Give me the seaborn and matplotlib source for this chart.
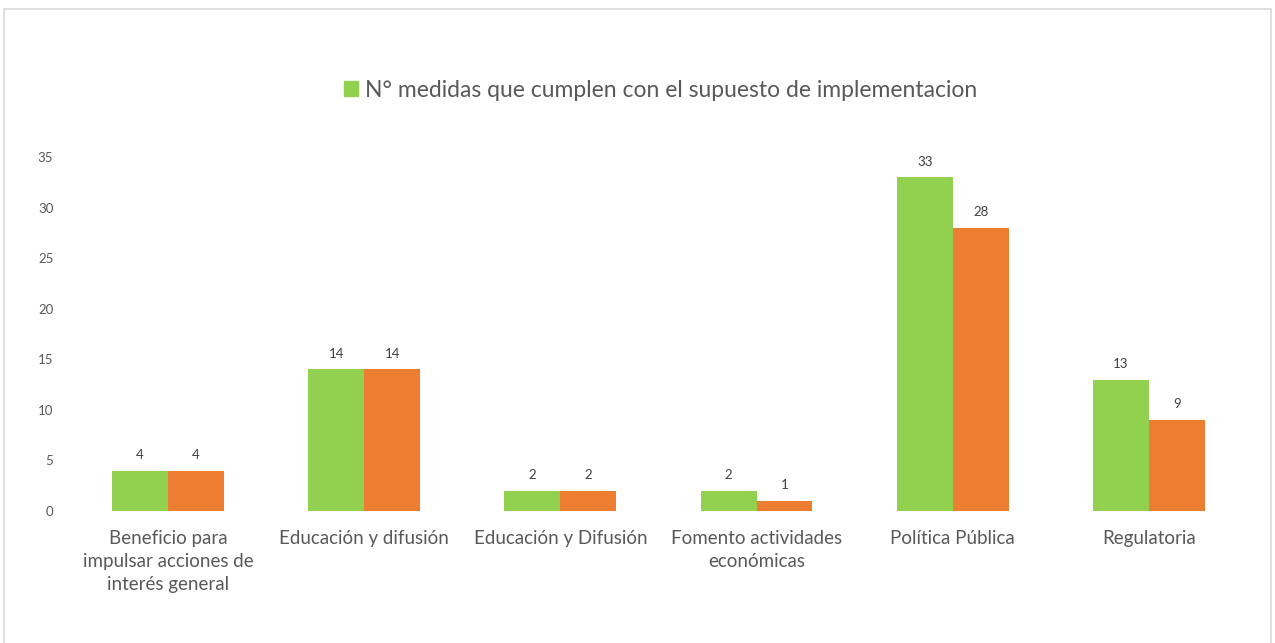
import pandas as pd
import matplotlib.pyplot as plt
import seaborn as sns
from matplotlib.patches import Patch, Rectangle

# Chart data
categories = ['Beneficio para\nimpulsar acciones de\ninterés general',
              'Educación y difusión',
              'Educación y Difusión',
              'Fomento actividades\neconómicas',
              'Política Pública',
              'Regulatoria']
cumplen = [4, 14, 2, 2, 33, 13]
otra_serie = [4, 14, 2, 1, 28, 9]
series_names = ['N° medidas que cumplen con el supuesto de implementacion', 'Serie 2']

df = pd.DataFrame({
    'categoria': categories * 2,
    'valor': cumplen + otra_serie,
    'serie': [series_names[0]] * len(categories) + [series_names[1]] * len(categories),
})

sns.set_style('white')
plt.rcParams['font.family'] = ['Lato', 'DejaVu Sans']

fig = plt.figure(figsize=(12.75, 6.43), dpi=100)
ax = fig.add_axes([0.0549, 0.2053, 0.9231, 0.5505])

colors = ['#92D050', '#ED7D31']
sns.barplot(data=df, x='categoria', y='valor', hue='serie', palette=colors,
            width=0.57, saturation=1, linewidth=0, ax=ax, legend=False)

for cont in ax.containers:
    ax.bar_label(cont, fontsize=9.5, color='#404040', padding=7)

ax.set_ylim(0, 35)
ax.set_yticks(range(0, 36, 5))
ax.set_xlim(-0.5, len(categories) - 0.5)
ax.set_xlabel('')
ax.set_ylabel('')
ax.tick_params(axis='y', labelsize=9.5, labelcolor='#595959', length=0, pad=12)
ax.tick_params(axis='x', labelsize=13.5, labelcolor='#595959', length=0, pad=14)
for lbl in ax.get_xticklabels():
    lbl.set_linespacing(1.4)
for s in ['top', 'right', 'left', 'bottom']:
    ax.spines[s].set_visible(False)

# only the first series appears in the legend
fig.legend(handles=[Patch(color=colors[0], label=series_names[0])],
           loc='center', bbox_to_anchor=(0.518, 0.86), frameon=False,
           fontsize=16.5, labelcolor='#595959', handlelength=0.6, handleheight=0.6,
           handletextpad=0.3)

# light outer border
fig.patches.append(Rectangle((0.003, -0.01), 0.994, 0.996, transform=fig.transFigure,
                             fill=False, edgecolor='#D9D9D9', linewidth=1.2))

plt.savefig('out.png', dpi=100)
